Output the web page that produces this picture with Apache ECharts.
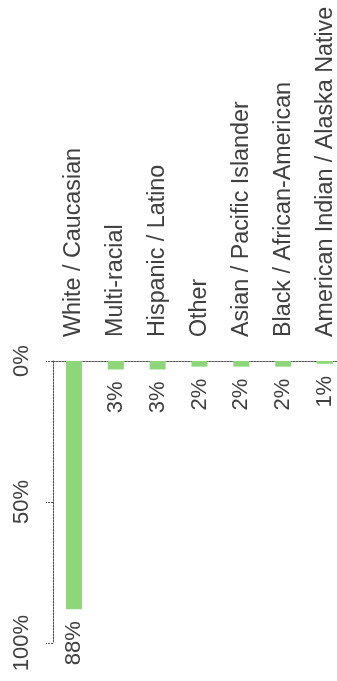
<!DOCTYPE html>
<html>
<head>
<meta charset="utf-8">
<script src="https://cdn.jsdelivr.net/npm/echarts@6/dist/echarts.min.js"></script>
<style>
  html, body { margin: 0; padding: 0; background: #ffffff; overflow: hidden; }
  #chart { width: 337px; height: 681px; }
</style>
</head>
<body>
<div id="chart"></div>
<script>
const categories = [
  "White / Caucasian",
  "Multi-racial",
  "Hispanic / Latino",
  "Other",
  "Asian / Pacific Islander",
  "Black / African-American",
  "American Indian / Alaska Native"
];
const percentValues = [88, 3, 3, 2, 2, 2, 1];
const axisMin = 0;
const axisMax = 100;
const axisInterval = 50;

const textColor = "#404040";
const fontFamily = "'Liberation Sans', Arial, sans-serif";
const lineStyle = { color: "#555555", width: 1, type: [2, 1] };

const chart = echarts.init(document.getElementById("chart"), null, { renderer: "canvas" });
chart.setOption({
  animation: false,
  backgroundColor: "#ffffff",
  grid: {
    left: 53, top: 361, height: 282, width: 293,
    containLabel: false,
    outerBoundsMode: "none"
  },
  xAxis: {
    type: "category",
    position: "top",
    data: categories,
    axisLine: { show: true, lineStyle: lineStyle },
    axisTick: { show: false },
    axisLabel: {
      rotate: 90,
      margin: 24,
      fontSize: 23.3,
      color: textColor,
      fontFamily: fontFamily,
      interval: 0
    }
  },
  yAxis: {
    type: "value",
    inverse: true,
    min: axisMin,
    max: axisMax,
    interval: axisInterval,
    axisLine: { show: true, lineStyle: lineStyle },
    axisTick: { show: true, length: 7, lineStyle: lineStyle },
    splitLine: { show: false },
    axisLabel: {
      rotate: 90,
      margin: 20,
      fontSize: 22,
      color: textColor,
      fontFamily: fontFamily,
      formatter: "{value}%"
    }
  },
  series: [{
    type: "bar",
    data: percentValues,
    barWidth: 16,
    itemStyle: { color: "#8ed67a" },
    label: {
      show: true,
      position: "bottom",
      distance: 12,
      rotate: 90,
      align: "right",
      verticalAlign: "middle",
      fontSize: 22,
      color: textColor,
      fontFamily: fontFamily,
      formatter: function (p) { return p.value + "%"; }
    }
  }]
});
</script>
</body>
</html>
